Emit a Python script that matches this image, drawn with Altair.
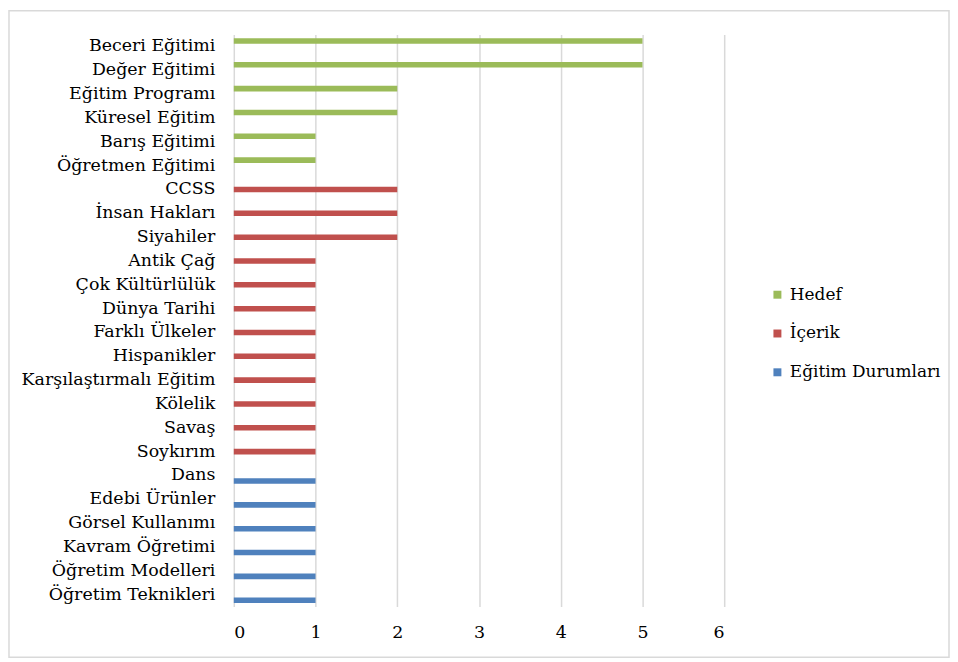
import altair as alt
import pandas as pd

categories = [
    "Beceri Eğitimi", "Değer Eğitimi", "Eğitim Programı", "Küresel Eğitim",
    "Barış Eğitimi", "Öğretmen Eğitimi",
    "CCSS", "İnsan Hakları", "Siyahiler", "Antik Çağ", "Çok Kültürlülük",
    "Dünya Tarihi", "Farklı Ülkeler", "Hispanikler", "Karşılaştırmalı Eğitim",
    "Kölelik", "Savaş", "Soykırım",
    "Dans", "Edebi Ürünler", "Görsel Kullanımı", "Kavram Öğretimi",
    "Öğretim Modelleri", "Öğretim Teknikleri",
]
series = (["Hedef"] * 6) + (["İçerik"] * 12) + (["Eğitim Durumları"] * 6)
values = [5, 5, 2, 2, 1, 1,
          2, 2, 2, 1, 1, 1, 1, 1, 1, 1, 1, 1,
          1, 1, 1, 1, 1, 1]
series_order = ["Hedef", "İçerik", "Eğitim Durumları"]
series_colors = ["#9BBB59", "#C0504D", "#4F81BD"]
x_ticks = [0, 1, 2, 3, 4, 5, 6]

df = pd.DataFrame({"Kategori": categories, "Seri": series, "Değer": values})

FONT = "DejaVu Serif"
FS = 17.5

bars = alt.Chart(df).mark_bar().encode(
    y=alt.Y("Kategori:N", sort=categories, title=None,
            scale=alt.Scale(paddingInner=0.3, paddingOuter=0.15),
            axis=alt.Axis(labelFont=FONT, labelFontSize=FS, labelColor="#000000",
                          labelPadding=19, ticks=False, domain=False, grid=False,
                          labelLimit=400)),
    yOffset=alt.YOffset("Seri:N", sort=series_order,
                        scale=alt.Scale(domain=series_order, paddingInner=0, paddingOuter=0)),
    x=alt.X("Değer:Q", title=None,
            scale=alt.Scale(domain=[0, 6], nice=False),
            axis=alt.Axis(values=x_ticks, format="d", labelFont=FONT, labelFontSize=FS,
                          labelColor="#000000", labelPadding=17, ticks=False, domain=False,
                          grid=True, gridColor="#D9D9D9", gridWidth=1.5)),
    color=alt.Color("Seri:N", sort=series_order,
                    scale=alt.Scale(domain=series_order, range=series_colors),
                    legend=alt.Legend(title=None, orient="none", legendX=538, legendY=253,
                                      symbolType="square", symbolSize=64,
                                      symbolStrokeWidth=0,
                                      labelFont=FONT, labelFontSize=17, labelLimit=300,
                                      labelColor="#000000", rowPadding=21,
                                      labelOffset=4)),
)

border = alt.Chart(alt.Data(values=[{}])).mark_rect(
    fill="transparent", stroke="#D9D9D9", strokeWidth=1.5
).encode(
    x=alt.value(-226), x2=alt.value(719),
    y=alt.value(-24), y2=alt.value(626),
)

chart = alt.layer(border, bars).properties(
    width=493, height=575, padding=0, background="#FFFFFF"
).configure_view(stroke=None, strokeWidth=0)

chart.save("out.html", embed_options={"renderer": "svg", "actions": False})
